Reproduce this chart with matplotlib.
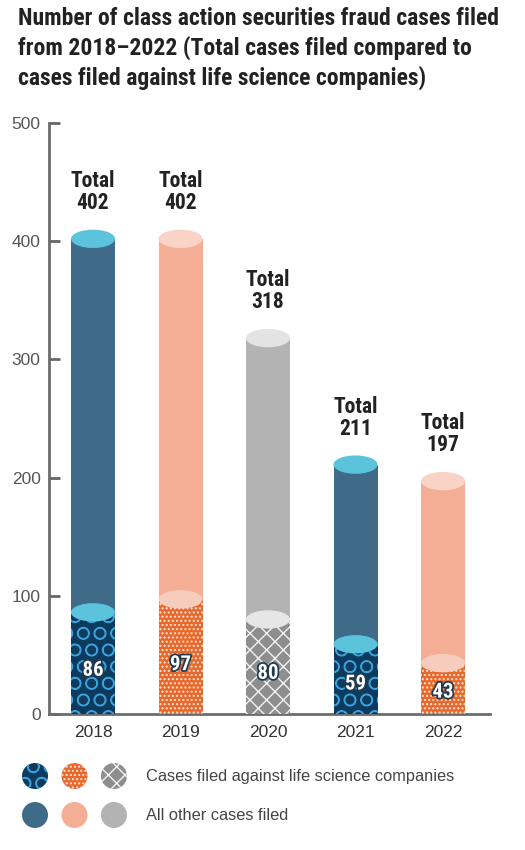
import matplotlib
matplotlib.use("Agg")
import matplotlib.pyplot as plt
from matplotlib.patches import Ellipse, Circle
import matplotlib.patheffects as pe
import matplotlib.font_manager as fm

years = ["2018", "2019", "2020", "2021", "2022"]
total_cases = [402, 402, 318, 211, 197]
life_science_cases = [86, 97, 80, 59, 43]
y_ticks = [0, 100, 200, 300, 400, 500]
legend_labels = ["Cases filed against life science companies", "All other cases filed"]
title = ("Number of class action securities fraud cases filed\n"
         "from 2018\u20132022 (Total cases filed compared to\n"
         "cases filed against life science companies)")

names = {f.name for f in fm.fontManager.ttflist}
if "Roboto Condensed" in names:
    bold_font, title_size, total_size = "Roboto Condensed", 17, 15.5
elif "Liberation Sans Narrow" in names:
    bold_font, title_size, total_size = "Liberation Sans Narrow", 17.5, 16
else:
    bold_font, title_size, total_size = "Roboto", 14, 14
light_font = "Liberation Sans"

# styles: outer color, cap color, inner face, hatch, hatch color, inner cap
styles = {
    "blue": ("#3f6b88", "#5bc3dc", "#0d3b5e", "O", "#3b9fd9", "#5bc3dc"),
    "orange": ("#f4ae96", "#f8d3c6", "#e8682c", "....", "#fbe3d6", "#f6cdbd"),
    "gray": ("#b3b3b3", "#e3e3e3", "#8e8e8e", "xx", "#f2f2f2", "#e6e6e6"),
}
year_style = ["blue", "orange", "gray", "blue", "orange"]

plt.rcParams["hatch.linewidth"] = 1.0
fig = plt.figure(figsize=(5.25, 8.5), dpi=100)
ax = fig.add_axes([49 / 525, 1 - 714 / 850, 441 / 525, (714 - 123) / 850])

bw = 0.503
cap_h = 15.5
x = list(range(len(years)))
for i, (tot, ls) in enumerate(zip(total_cases, life_science_cases)):
    oc, cc, ic, hatch, hc, icc = styles[year_style[i]]
    ax.bar(i, tot, width=bw, color=oc, linewidth=0, zorder=2)
    ax.add_patch(Ellipse((i, tot), bw, cap_h, facecolor=cc, linewidth=0, zorder=3, clip_on=False))
    ax.bar(i, ls, width=bw, facecolor=ic, edgecolor=hc, hatch=hatch, linewidth=0, zorder=4)
    ax.add_patch(Ellipse((i, ls), bw, cap_h, facecolor=icc, linewidth=0, zorder=5))
    ax.text(i, tot + 21, f"Total\n{tot}", ha="center", va="bottom", fontsize=total_size,
            fontweight="bold", family=bold_font, color="#222222", linespacing=1.0, zorder=6)
    ax.text(i, ls * 0.43, str(ls), ha="center", va="center", fontsize=15,
            fontweight="bold", family=bold_font, color="white", zorder=7,
            path_effects=[pe.withStroke(linewidth=2.5, foreground="#1f3a50")])

ax.set_xlim(-0.503, 4.537)
ax.set_ylim(0, 500)
ax.set_xticks(x)
ax.set_xticklabels(years, family=light_font, fontsize=12.5, color="#333333")
ax.set_yticks(y_ticks)
ax.set_yticklabels([str(v) for v in y_ticks], family=light_font, fontsize=12.5, color="#555555")
ax.tick_params(axis="x", length=0, pad=8)
ax.tick_params(axis="y", direction="in", length=8, width=2, color="#666666", pad=6)
for s in ["top", "right"]:
    ax.spines[s].set_visible(False)
for s in ["left", "bottom"]:
    ax.spines[s].set_color("#6b6b6b")
    ax.spines[s].set_linewidth(2)
ax.set_facecolor("white")

fig.text(18 / 525, 1 - 7 / 850, title, ha="left", va="top", fontsize=title_size,
         fontweight="bold", family=bold_font, color="#222222", linespacing=1.3)

# legend
lax = fig.add_axes([0, 0, 1, 110 / 850])
lax.set_xlim(0, 525)
lax.set_ylim(850, 740)
lax.axis("off")
for j, key in enumerate(["blue", "orange", "gray"]):
    oc, cc, ic, hatch, hc, icc = styles[key]
    cx = 35 + j * 39.5
    lax.add_patch(Circle((cx, 776), 13, facecolor=ic, edgecolor=hc, hatch=hatch, linewidth=0))
    lax.add_patch(Circle((cx, 815), 13, facecolor=oc, linewidth=0))
lax.text(146, 776, legend_labels[0], ha="left", va="center", family=light_font,
         fontsize=11.8, color="#444444")
lax.text(146, 815, legend_labels[1], ha="left", va="center", family=light_font,
         fontsize=11.8, color="#444444")

fig.savefig("out.png", dpi=100, facecolor="white")
